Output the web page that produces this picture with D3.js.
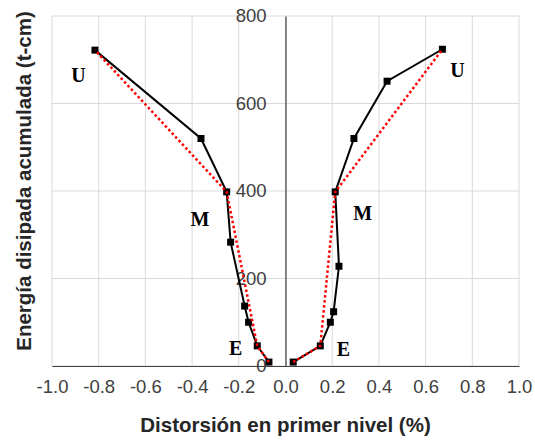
<!DOCTYPE html>
<html>
<head>
<meta charset="utf-8">
<script src="https://cdn.jsdelivr.net/npm/d3@7"></script>
<style>
  body { margin: 0; background: #fff; }
</style>
</head>
<body>
<div id="chart"></div>
<script>
// measured curve, negative side
const negX = [-0.071, -0.121, -0.158, -0.175, -0.235, -0.252, -0.362, -0.816];
const negY = [9, 46, 100, 137, 283, 398, 520, 722];
// measured curve, positive side
const posX = [0.033, 0.149, 0.192, 0.206, 0.229, 0.213, 0.293, 0.435, 0.672];
const posY = [9, 46, 100, 124, 228, 398, 520, 651, 724];
// idealised (red dotted) envelopes
const idealNegX = [-0.071, -0.121, -0.252, -0.816];
const idealNegY = [9, 46, 398, 722];
const idealPosX = [0.033, 0.149, 0.213, 0.672];
const idealPosY = [9, 46, 398, 724];
// state labels
const labelText = ['U', 'U', 'M', 'M', 'E', 'E'];
const labelX = [-0.887, 0.737, -0.366, 0.331, -0.213, 0.248];
const labelY = [665, 677, 336, 349, 42, 39];

const xTicks = [-1.0, -0.8, -0.6, -0.4, -0.2, 0.0, 0.2, 0.4, 0.6, 0.8, 1.0];
const yTicks = [0, 200, 400, 600, 800];

const W = 535, H = 440;
const margin = { top: 16, right: 16, bottom: 74, left: 52 };
const sans = '"Liberation Sans", Arial, sans-serif';

const svg = d3.select('#chart').append('svg')
  .attr('width', W)
  .attr('height', H);

const x = d3.scaleLinear().domain([-1, 1]).range([margin.left, W - margin.right]);
const y = d3.scaleLinear().domain([0, 800]).range([H - margin.bottom, margin.top]);

// grid
svg.append('g')
  .selectAll('line')
  .data(xTicks)
  .enter().append('line')
  .attr('x1', d => x(d)).attr('x2', d => x(d))
  .attr('y1', y(0)).attr('y2', y(800))
  .attr('stroke', '#d9d9d9').attr('stroke-width', 1);

svg.append('g')
  .selectAll('line')
  .data(yTicks)
  .enter().append('line')
  .attr('x1', x(-1)).attr('x2', x(1))
  .attr('y1', d => y(d)).attr('y2', d => y(d))
  .attr('stroke', '#d9d9d9').attr('stroke-width', 1);

// axes (hyphen minus like the original)
const fmt = d => d3.format('.1f')(d).replace('\u2212', '-');
const xAxis = d3.axisBottom(x).tickValues(xTicks).tickFormat(fmt).tickSize(0).tickPadding(14);
const yAxis = d3.axisLeft(y).tickValues(yTicks).tickSize(0).tickPadding(19);

const gx = svg.append('g')
  .attr('transform', 'translate(0,' + y(0) + ')')
  .call(xAxis);
gx.select('.domain').attr('stroke', '#404040').attr('stroke-width', 1.2);
gx.selectAll('text').attr('font-size', 18.5).attr('fill', '#404040').attr('font-family', sans);

const gy = svg.append('g')
  .attr('transform', 'translate(' + x(0) + ',0)')
  .call(yAxis);
gy.select('.domain').attr('stroke', '#404040').attr('stroke-width', 1.2);
gy.selectAll('text').attr('font-size', 18.5).attr('fill', '#404040').attr('font-family', sans);

// lines
const line = d3.line().x(d => x(d[0])).y(d => y(d[1]));

function drawIdeal(xs, ys) {
  svg.append('path')
    .datum(d3.zip(xs, ys))
    .attr('d', line)
    .attr('fill', 'none')
    .attr('stroke', '#ff0000')
    .attr('stroke-width', 2.5)
    .attr('stroke-dasharray', '2.5,2.5');
}

function drawCurve(xs, ys) {
  const pts = d3.zip(xs, ys);
  svg.append('path')
    .datum(pts)
    .attr('d', line)
    .attr('fill', 'none')
    .attr('stroke', '#000')
    .attr('stroke-width', 2);
  svg.append('g')
    .selectAll('rect')
    .data(pts)
    .enter().append('rect')
    .attr('x', d => x(d[0]) - 3.5)
    .attr('y', d => y(d[1]) - 3.5)
    .attr('width', 7)
    .attr('height', 7)
    .attr('fill', '#000');
}

drawCurve(negX, negY);
drawCurve(posX, posY);
drawIdeal(idealNegX, idealNegY);
drawIdeal(idealPosX, idealPosY);

// labels
svg.append('g')
  .selectAll('text')
  .data(d3.zip(labelText, labelX, labelY))
  .enter().append('text')
  .attr('x', d => x(d[1]))
  .attr('y', d => y(d[2]))
  .attr('dy', '0.35em')
  .attr('text-anchor', 'middle')
  .attr('font-family', '"Liberation Serif", "Times New Roman", serif')
  .attr('font-weight', 'bold')
  .attr('font-size', 20)
  .attr('fill', '#000')
  .text(d => d[0]);

// titles
svg.append('text')
  .attr('x', (x(-1) + x(1)) / 2)
  .attr('y', 432)
  .attr('text-anchor', 'middle')
  .attr('font-family', sans)
  .attr('font-size', 20.5)
  .attr('font-weight', 'bold')
  .attr('fill', '#262626')
  .text('Distorsión en primer nivel (%)');

svg.append('text')
  .attr('transform', 'translate(31,' + ((y(0) + y(800)) / 2 - 10) + ') rotate(-90)')
  .attr('text-anchor', 'middle')
  .attr('font-family', sans)
  .attr('font-size', 20.5)
  .attr('font-weight', 'bold')
  .attr('fill', '#262626')
  .text('Energía disipada acumulada (t-cm)');
</script>
</body>
</html>
